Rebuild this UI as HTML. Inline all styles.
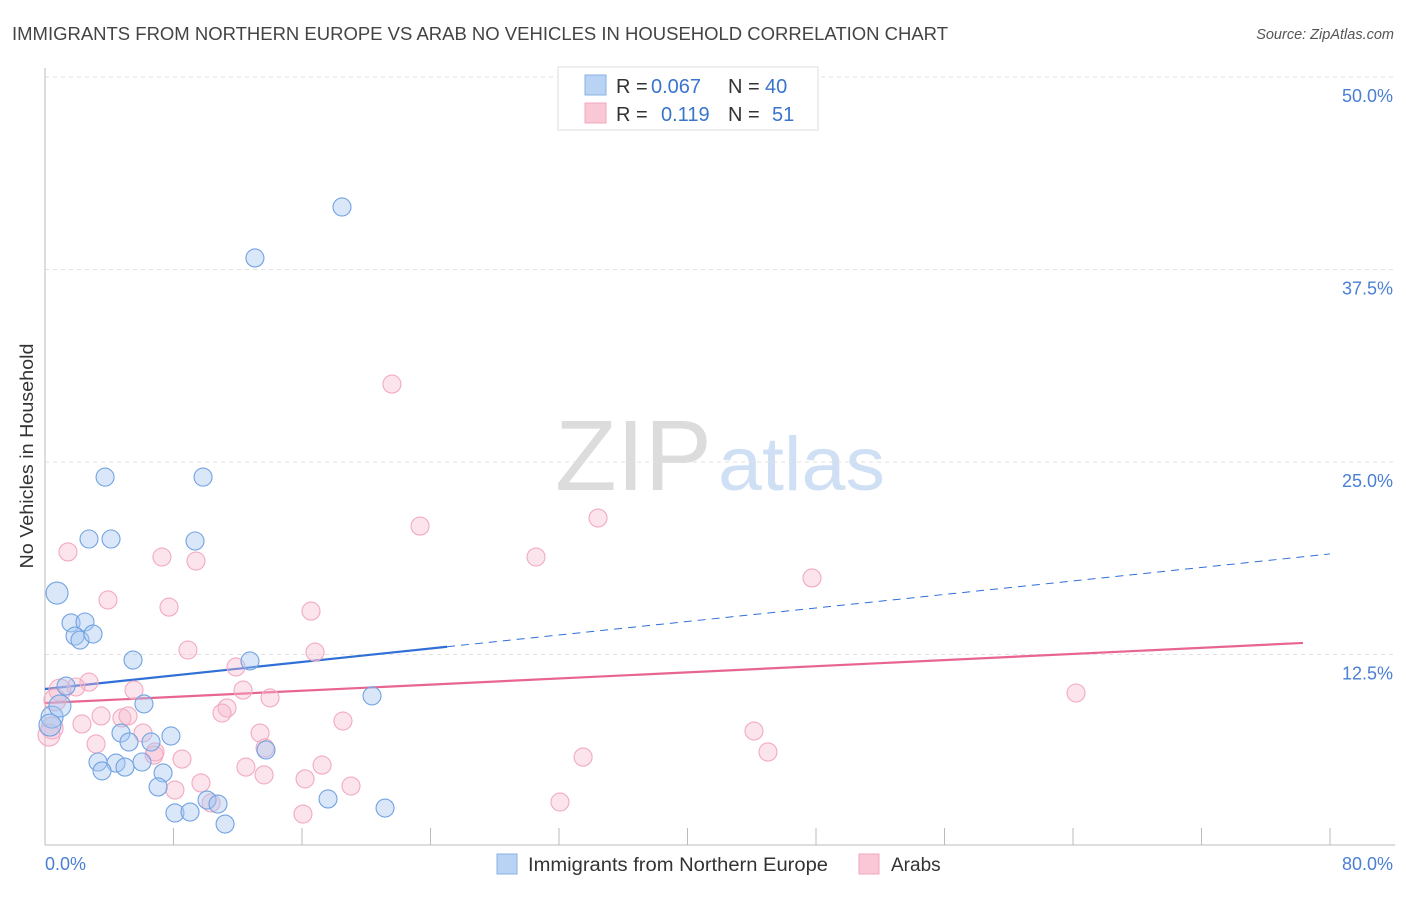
<!DOCTYPE html>
<html><head><meta charset="utf-8">
<style>
body{margin:0;background:#fff;font-family:"Liberation Sans",sans-serif;}
svg text{font-family:"Liberation Sans",sans-serif;}
</style></head>
<body>
<svg id="chart" width="1406" height="892" viewBox="0 0 1406 892">
<text x="12" y="40" font-size="18" fill="#444" textLength="936" lengthAdjust="spacingAndGlyphs">IMMIGRANTS FROM NORTHERN EUROPE VS ARAB NO VEHICLES IN HOUSEHOLD CORRELATION CHART</text>
<text x="1394" y="39" font-size="14.5" fill="#555" font-style="italic" text-anchor="end">Source: ZipAtlas.com</text>
<text x="33" y="456" font-size="18" fill="#333" text-anchor="middle" textLength="225" lengthAdjust="spacingAndGlyphs" transform="rotate(-90 33 456)">No Vehicles in Household</text>
<g>
<text x="555" y="490" font-size="100" fill="#dcdcdc" font-family="Liberation Serif" textLength="157" lengthAdjust="spacingAndGlyphs">ZIP</text>
<text x="718" y="490" font-size="76" fill="#cfe0f4" textLength="167" lengthAdjust="spacingAndGlyphs">atlas</text>
</g>
<g id="grid"></g>
<g id="axes"></g>
<g id="lines"></g>
<g id="points"></g>
<g>
<rect x="558" y="67" width="260" height="63" fill="#fff" stroke="#ddd"/>
<rect x="585" y="75" width="21" height="20" fill="#b8d3f4" stroke="#8ab0e0"/>
<text x="616" y="93" font-size="20" fill="#333">R =</text>
<text x="651" y="93" font-size="20" fill="#3a74cc">0.067</text>
<text x="728" y="93" font-size="20" fill="#333">N =</text>
<text x="765" y="93" font-size="20" fill="#3a74cc">40</text>
<rect x="585" y="103" width="21" height="20" fill="#f9c7d5" stroke="#f0a8bd"/>
<text x="616" y="121" font-size="20" fill="#333">R =</text>
<text x="661" y="121" font-size="20" fill="#3a74cc">0.119</text>
<text x="728" y="121" font-size="20" fill="#333">N =</text>
<text x="772" y="121" font-size="20" fill="#3a74cc">51</text>
</g>
<g>
<rect x="497" y="854" width="20" height="20" fill="#b8d3f4" stroke="#8ab0e0"/>
<text x="528" y="871" font-size="19" fill="#333" textLength="300" lengthAdjust="spacingAndGlyphs">Immigrants from Northern Europe</text>
<rect x="859" y="854" width="20" height="20" fill="#f9c7d5" stroke="#f0a8bd"/>
<text x="891" y="871" font-size="19" fill="#333">Arabs</text>
</g>
</svg>
<script>
const yTicks=[12.5,25,37.5,50];
const yTickLabels=["12.5%","25.0%","37.5%","50.0%"];
const xTickCount=10;
const blueX=[18.49,13.07,3.74,9.84,2.74,4.11,9.34,0.75,1.62,2.49,1.87,2.18,2.99,5.48,12.76,1.31,6.16,4.73,7.84,5.23,6.60,3.30,4.42,3.55,4.98,6.04,7.35,7.04,13.76,20.36,10.09,10.77,8.09,9.03,11.21,17.62,21.17,0.44,0.31,0.93];
const blueY=[41.56,38.25,24.02,24.02,20.00,20.00,19.87,16.49,14.55,14.61,13.70,13.44,13.83,12.14,12.08,10.45,9.29,7.40,7.21,6.82,6.82,5.52,5.45,4.94,5.19,5.52,4.81,3.90,6.30,9.81,3.05,2.79,2.21,2.27,1.49,3.12,2.53,8.44,7.92,9.16];
const pinkX=[21.60,23.35,34.43,30.57,47.75,64.19,1.43,7.28,9.40,3.92,7.72,16.56,8.90,11.89,16.81,18.55,13.39,14.01,12.33,5.54,2.74,1.93,0.93,3.49,2.30,4.79,3.18,6.10,8.53,6.79,11.33,11.02,13.70,12.51,13.64,16.19,17.25,19.05,9.71,8.09,10.34,16.06,32.06,33.50,44.14,45.01,0.44,0.25,5.17,6.85,0.62];
const pinkY=[30.06,20.84,21.36,18.83,17.47,10.00,19.16,18.83,18.57,16.04,15.58,15.32,12.79,11.69,12.66,8.18,7.40,9.68,10.19,10.19,10.71,10.39,10.19,8.51,7.99,8.38,6.69,7.40,5.71,5.97,9.03,8.70,6.43,5.19,4.68,4.42,5.32,3.96,4.16,3.70,2.86,2.14,2.92,5.84,7.53,6.17,7.73,7.27,8.51,6.17,9.55];
const blueTrend=[10.26,19.03]; const blueSolidEnd=25.03;
const pinkTrend=[9.35,13.25]; const pinkEnd=78.32;

const X0=45,X1=1330,Y0=847,PXPER=192.5/12.5;
const sx=v=>X0+v/80*(X1-X0);
const sy=v=>Y0-v*PXPER;
const NS="http://www.w3.org/2000/svg";
function mk(tag,attrs,parent){const e=document.createElementNS(NS,tag);for(const k in attrs)e.setAttribute(k,attrs[k]);document.getElementById(parent).appendChild(e);return e;}

yTicks.forEach((t,i)=>{
  const g=mk('line',{x1:45,x2:1395,y1:sy(t),y2:sy(t),stroke:'#e2e2e2','stroke-dasharray':'4,4'},'grid');
  
  
  const tx=mk('text',{x:1393,y:sy(t)+25,'font-size':18,fill:'#4a7fd4','text-anchor':'end'},'grid');
  tx.textContent=yTickLabels[i];
  
  
});
let ax=mk('line',{x1:45,x2:1395,y1:845,y2:845,stroke:'#bbb'},'axes');


ax=mk('line',{x1:45,x2:45,y1:68,y2:845,stroke:'#bbb'},'axes');


for(let i=1;i<=xTickCount;i++){
  const v=i*8;
  const t=mk('line',{x1:sx(v),x2:sx(v),y1:828,y2:845,stroke:'#bbb'},'axes');
  
  
}
let lx=mk('text',{x:45,y:870,'font-size':18,fill:'#4a7fd4'},'axes');lx.textContent='0.0%';


lx=mk('text',{x:1393,y:870,'font-size':18,fill:'#4a7fd4','text-anchor':'end'},'axes');lx.textContent='80.0%';



function pts(xs,ys,fill,stroke,name){
  xs.forEach((x,i)=>{
    const c=mk('circle',{cx:sx(x),cy:sy(ys[i]),r:(x<1?11:9),fill:fill,stroke:stroke,'stroke-width':1.1},'points');
    
    
  });
}
pts(pinkX,pinkY,'rgba(248,185,205,0.38)','#f2aac0','arab-point');
pts(blueX,blueY,'rgba(165,198,240,0.42)','#72a2e2','immigrant-point');

const bt=v=>blueTrend[0]+(blueTrend[1]-blueTrend[0])*v/80;
let l=mk('line',{x1:sx(0),y1:sy(bt(0)),x2:sx(blueSolidEnd),y2:sy(bt(blueSolidEnd)),stroke:'#2f6fd6','stroke-width':2.2},'lines');


l=mk('line',{x1:sx(blueSolidEnd),y1:sy(bt(blueSolidEnd)),x2:sx(80),y2:sy(bt(80)),stroke:'#2f6fd6','stroke-width':1,'stroke-dasharray':'8,6'},'lines');


const pt=v=>pinkTrend[0]+(pinkTrend[1]-pinkTrend[0])*v/pinkEnd;
l=mk('line',{x1:sx(0),y1:sy(pt(0)),x2:sx(pinkEnd),y2:sy(pt(pinkEnd)),stroke:'#e86590','stroke-width':2.2},'lines');


</script>
</body></html>
